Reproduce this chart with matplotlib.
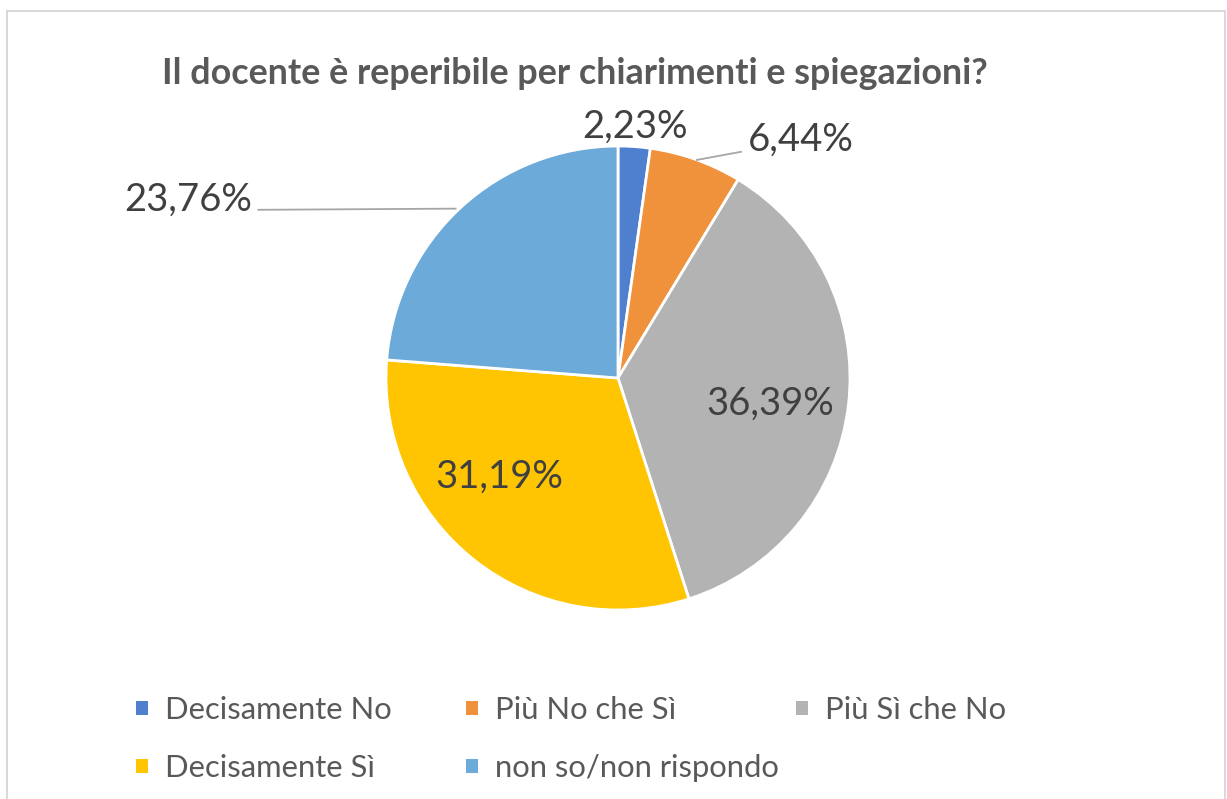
import matplotlib.pyplot as plt
from matplotlib.patches import Rectangle

plt.rcParams['font.family'] = ['Lato', 'DejaVu Sans']

title = "Il docente è reperibile per chiarimenti e spiegazioni?"
categories = ["Decisamente No", "Più No che Sì", "Più Sì che No",
              "Decisamente Sì", "non so/non rispondo"]
values = [2.23, 6.44, 36.39, 31.19, 23.76]
labels = ["2,23%", "6,44%", "36,39%", "31,19%", "23,76%"]
colors = ["#4E80CE", "#F0913C", "#B3B3B3", "#FFC502", "#6BAAD9"]

W, H = 1227, 799
fig = plt.figure(figsize=(W / 100, H / 100), dpi=100)

# light outer frame like the spreadsheet chart area
fig.add_artist(Rectangle((7 / W, -0.01), 1218 / W, 1 - 11 / H + 0.01,
                         transform=fig.transFigure, fill=False,
                         edgecolor="#D9D9D9", linewidth=1.5))

cx, cy, r = 618, 378, 232
ax = fig.add_axes([(cx - r) / W, 1 - (cy + r) / H, 2 * r / W, 2 * r / H])
wedges, _ = ax.pie(values, colors=colors, startangle=90, counterclock=False,
                   radius=1, wedgeprops=dict(edgecolor="white", linewidth=2))
ax.set_xlim(-1, 1)
ax.set_ylim(-1, 1)
ax.set_aspect("equal")
ax.axis("off")

# label positions (axes data units) and optional leader lines
label_pos = [(0.075, 1.085), (0.79, 1.025), (0.655, -0.11), (-0.51, -0.425), (-1.853, 0.77)]
leader_start = [None, (0.34, 0.94), None, None, (-0.70, 0.73)]
leader_end = [None, (0.53, 0.975), None, None, (-1.55, 0.725)]
for lab, pos, s, e in zip(labels, label_pos, leader_start, leader_end):
    ax.text(pos[0], pos[1], lab, ha="center", va="center", fontsize=27.5,
            color="#404040", clip_on=False)
    if s is not None:
        ax.plot([s[0], e[0]], [s[1], e[1]], color="#A6A6A6", lw=1.3, clip_on=False)

fig.text(575 / W, 1 - 73 / H, title, ha="center", va="center", fontsize=25.8,
         fontweight="bold", color="#595959")

# legend laid out on a regular grid like the original
for i, (cat, col) in enumerate(zip(categories, colors)):
    row, c = divmod(i, 3)
    x = 136 + 330 * c
    y = 710 + 58 * row
    fig.add_artist(Rectangle((x / W, 1 - (y + 5) / H), 12 / W, 14 / H,
                             transform=fig.transFigure, facecolor=col, edgecolor="none"))
    fig.text((x + 29) / W, 1 - y / H, cat, ha="left", va="center",
             fontsize=22.3, color="#595959")

fig.savefig("out.png", dpi=100)
